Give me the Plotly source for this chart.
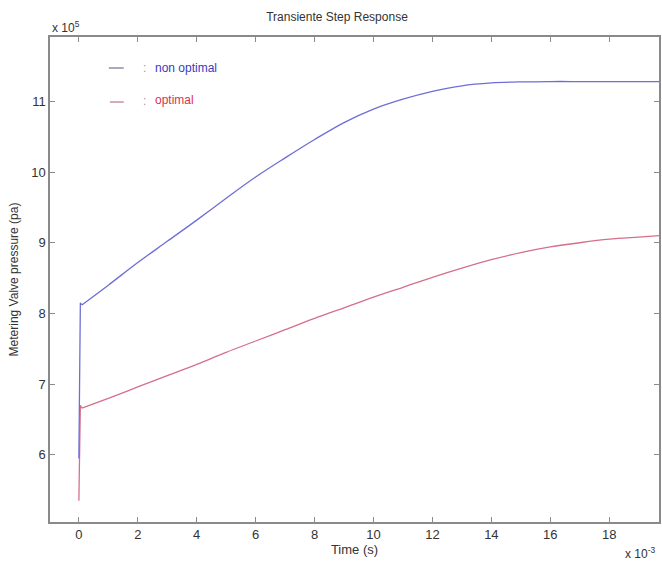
import plotly.graph_objects as go

# time in units of 1e-3 s, pressure in units of 1e5 Pa
t = [0, 0.05, 0.1, 1, 2, 3, 4, 5, 6, 7, 8, 9, 10, 11, 12, 13, 14, 15, 16, 17, 18, 19, 19.7]
non_optimal = [5.95, 8.15, 8.12, 8.40, 8.72, 9.02, 9.32, 9.63, 9.93, 10.20, 10.46, 10.70, 10.89,
               11.03, 11.14, 11.22, 11.26, 11.275, 11.28, 11.28, 11.28, 11.28, 11.28]
optimal = [5.35, 6.70, 6.66, 6.80, 6.96, 7.12, 7.28, 7.45, 7.61, 7.77, 7.93, 8.08, 8.23,
           8.37, 8.51, 8.64, 8.76, 8.86, 8.94, 9.00, 9.05, 9.08, 9.10]
x_ticks = [0, 2, 4, 6, 8, 10, 12, 14, 16, 18]
y_ticks = [6, 7, 8, 9, 10, 11]

FONT = "Liberation Sans, Arial, sans-serif"
AX = "#8a8a8a"
TXT = "#333333"

fig = go.Figure()
for ys, col in ((optimal, "#d4708a"), (non_optimal, "#6e6ed6")):
    # initial jump (straight segments)
    fig.add_trace(go.Scatter(x=t[:3], y=ys[:3], mode="lines", line=dict(color=col, width=1.3),
                             showlegend=False))
    # smooth response
    fig.add_trace(go.Scatter(x=t[2:], y=ys[2:], mode="lines", line=dict(color=col, width=1.3),
                             line_shape="spline", showlegend=False))

axis_common = dict(showline=True, linecolor=AX, linewidth=1.5, mirror="ticks", ticks="inside",
                   ticklen=5, tickcolor=AX, showgrid=False, zeroline=False,
                   tickfont=dict(family=FONT, size=13, color=TXT))
fig.update_xaxes(range=[-0.98, 19.69], tickvals=x_ticks, **axis_common,
                 title=dict(text="Time (s)", font=dict(family=FONT, size=13, color=TXT), standoff=2))
fig.update_yaxes(range=[5.05, 11.91], tickvals=y_ticks, **axis_common,
                 title=dict(text="Metering Valve pressure (pa)", font=dict(family=FONT, size=12, color=TXT), standoff=10))

fig.update_layout(
    width=662, height=563, margin=dict(l=50, r=1, t=37, b=41),
    plot_bgcolor="white", paper_bgcolor="white",
    title=dict(text="Transiente Step Response", x=337/662, xanchor="center", y=1-17/563, yanchor="middle",
               font=dict(family=FONT, size=12, color=TXT)),
    showlegend=False,
)

fig.add_annotation(text="x 10<sup>5</sup>", xref="paper", yref="paper", x=0, y=1.0, xanchor="left",
                   yanchor="bottom", yshift=0, showarrow=False, font=dict(family=FONT, size=12, color=TXT))
fig.add_annotation(text="x 10<sup>-3</sup>", xref="paper", yref="paper", x=1, y=0, xanchor="right",
                   yanchor="middle", yshift=-31, xshift=-2, showarrow=False, font=dict(family=FONT, size=12, color=TXT))

# legend-like annotations
def ypix(p):
    return 1 - (p - 37) / (522 - 37)

def xpix(p):
    return (p - 50) / (661 - 50)

fig.add_shape(type="line", xref="paper", yref="paper", x0=xpix(109), x1=xpix(124), y0=ypix(68), y1=ypix(68),
              line=dict(color="#7c7c9c", width=1.3))
fig.add_shape(type="line", xref="paper", yref="paper", x0=xpix(110), x1=xpix(124), y0=ypix(102), y1=ypix(102),
              line=dict(color="#c08090", width=1.3))
for yy in (68, 101):
    fig.add_annotation(text=":", xref="paper", yref="paper", x=xpix(141), y=ypix(yy), yanchor="middle",
                       showarrow=False, font=dict(family=FONT, size=12, color="#999999"))
fig.add_annotation(text="non optimal", xref="paper", yref="paper", x=xpix(153), y=ypix(68), xanchor="left",
                   yanchor="middle", showarrow=False, font=dict(family=FONT, size=12, color="#3a3ac0"))
fig.add_annotation(text="optimal", xref="paper", yref="paper", x=xpix(153), y=ypix(100), xanchor="left",
                   yanchor="middle", showarrow=False, font=dict(family=FONT, size=12, color="#e0304a"))

fig.write_html("out.html")
